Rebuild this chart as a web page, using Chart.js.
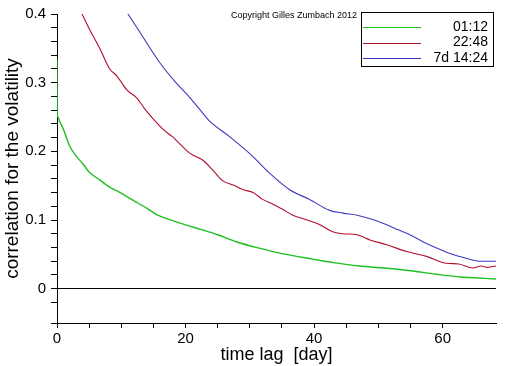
<!DOCTYPE html>
<html>
<head>
<meta charset="utf-8">
<style>
  html, body { margin: 0; padding: 0; background: #fff; }
  canvas { display: block; }
</style>
<script src="https://cdn.jsdelivr.net/npm/chart.js@4.4.1/dist/chart.umd.min.js"></script>
</head>
<body>
<canvas id="corr" width="512" height="366"></canvas>
<script>
// time lag [day] and correlation
const greenLag  = [0, 0.03, 0.15, 0.4, 1, 2, 3, 4, 5, 6.7, 8, 9.8, 12, 14, 15.5, 18, 20, 22.5, 25, 28, 31.6, 35, 39.8, 43, 47, 51, 55, 59, 62.7, 65, 68.3];
const greenCorr = [0.335, 0.258, 0.250, 0.244, 0.232, 0.207, 0.193, 0.182, 0.170, 0.158, 0.149, 0.140, 0.128, 0.117, 0.108, 0.099, 0.093, 0.086, 0.0785, 0.068, 0.0586, 0.051, 0.043, 0.038, 0.033, 0.030, 0.026, 0.021, 0.017, 0.016, 0.014];

const redLag  = [3.8, 5.1, 6.7, 8.2, 9.3, 10.9, 12.4, 13.7, 15, 16.5, 18, 19.1, 20.7, 22.7, 24.3, 25.8, 27.4, 29, 30.5, 32, 33.6, 35.1, 36.7, 38.9, 40.9, 42.9, 44.5, 46.7, 48.7, 51.3, 54.4, 57.5, 60.6, 62.5, 64.7, 66, 67, 68.3];
const redCorr = [0.402, 0.377, 0.349, 0.320, 0.310, 0.289, 0.278, 0.261, 0.247, 0.232, 0.221, 0.211, 0.197, 0.187, 0.172, 0.157, 0.151, 0.144, 0.140, 0.130, 0.123, 0.1155, 0.107, 0.100, 0.093, 0.083, 0.080, 0.0785, 0.071, 0.064, 0.054, 0.047, 0.037, 0.036, 0.030, 0.033, 0.031, 0.033];

const blueLag  = [10.9, 13, 16, 18.5, 20.7, 22.2, 23.8, 26.9, 30, 33.1, 36.2, 39.3, 42.4, 44.5, 46.7, 49, 51.3, 53, 54.9, 57, 59.6, 61.5, 63.8, 65.8, 68.3];
const blueCorr = [0.402, 0.372, 0.329, 0.300, 0.278, 0.261, 0.2435, 0.221, 0.1966, 0.168, 0.144, 0.130, 0.114, 0.110, 0.107, 0.101, 0.093, 0.086, 0.0785, 0.068, 0.057, 0.050, 0.044, 0.040, 0.040];

const seriesLabels = ['01:12', '22:48', '7d 14:24'];
const seriesColors = ['#20c020', '#b0102c', '#3a3ac0'];

const FONT = '"Liberation Sans", Arial, sans-serif';

function toPoints(xs, ys) {
  return xs.map((x, i) => ({ x: x, y: ys[i] }));
}

// legend box + copyright, drawn on top of the plot
const boxLegend = {
  id: 'boxLegend',
  afterDraw(chart) {
    const ctx = chart.ctx;
    ctx.save();
    ctx.font = '9px ' + FONT;
    ctx.fillStyle = '#000';
    ctx.textAlign = 'left';
    ctx.textBaseline = 'middle';
    ctx.fillText('Copyright Gilles Zumbach 2012', 231, 16);

    ctx.strokeStyle = '#000';
    ctx.lineWidth = 1;
    ctx.strokeRect(361.5, 12.5, 132, 54);
    ctx.font = '14px ' + FONT;
    ctx.textAlign = 'right';
    seriesLabels.forEach((label, i) => {
      const y = 27 + i * 15.5;
      ctx.fillStyle = seriesColors[i];
      ctx.fillRect(363, Math.round(y), 58, 1);
      ctx.fillStyle = '#000';
      ctx.fillText(label, 488, y);
    });
    ctx.restore();
  }
};

new Chart(document.getElementById('corr').getContext('2d'), {
  type: 'line',
  data: {
    datasets: [
      { label: seriesLabels[0], data: toPoints(greenLag, greenCorr), borderColor: seriesColors[0], borderWidth: 1.4 },
      { label: seriesLabels[1], data: toPoints(redLag, redCorr), borderColor: seriesColors[1], borderWidth: 1.1 },
      { label: seriesLabels[2], data: toPoints(blueLag, blueCorr), borderColor: seriesColors[2], borderWidth: 1.1 }
    ]
  },
  options: {
    responsive: false,
    animation: false,
    events: [],
    layout: { padding: { left: 0, top: 7, right: 16, bottom: 0 } },
    elements: { point: { radius: 0 }, line: { cubicInterpolationMode: 'monotone', fill: false } },
    plugins: { legend: { display: false }, tooltip: { enabled: false } },
    scales: {
      x: {
        type: 'linear',
        min: 0,
        max: 68.3,
        afterFit: s => { s.height = 43; },
        border: { display: true, color: '#000', width: 1 },
        grid: {
          drawOnChartArea: false,
          tickLength: 5,
          tickColor: c => (c.tick && Math.abs(c.tick.value % 5) < 1e-6) ? '#000' : 'rgba(0,0,0,0)'
        },
        ticks: {
          stepSize: 5,
          autoSkip: false,
          maxRotation: 0,
          padding: 2,
          color: '#000',
          font: { family: FONT, size: 15 },
          callback: v => (Math.abs(v % 20) < 1e-6) ? String(v) : ''
        },
        title: {
          display: true,
          text: 'time lag  [day]',
          color: '#000',
          padding: 0,
          font: { family: FONT, size: 18 }
        }
      },
      y: {
        type: 'linear',
        min: -0.05,
        max: 0.4,
        afterFit: s => { s.width = 57; },
        border: { display: true, color: '#000', width: 1 },
        grid: {
          drawOnChartArea: true,
          tickLength: 6,
          tickColor: '#000',
          color: c => (c.tick && Math.abs(c.tick.value) < 1e-9) ? '#000' : 'rgba(0,0,0,0)'
        },
        ticks: {
          stepSize: 0.02,
          autoSkip: false,
          padding: 5,
          color: '#000',
          font: { family: FONT, size: 15 },
          callback: v => {
            const t = v * 10;
            if (v < -1e-9 || Math.abs(t - Math.round(t)) > 1e-6) return '';
            return String(Math.round(t) / 10);
          }
        },
        title: {
          display: true,
          text: 'correlation for the volatility',
          color: '#000',
          padding: { top: 1, bottom: 0 },
          font: { family: FONT, size: 19 }
        }
      }
    }
  },
  plugins: [boxLegend]
});
</script>
</body>
</html>
